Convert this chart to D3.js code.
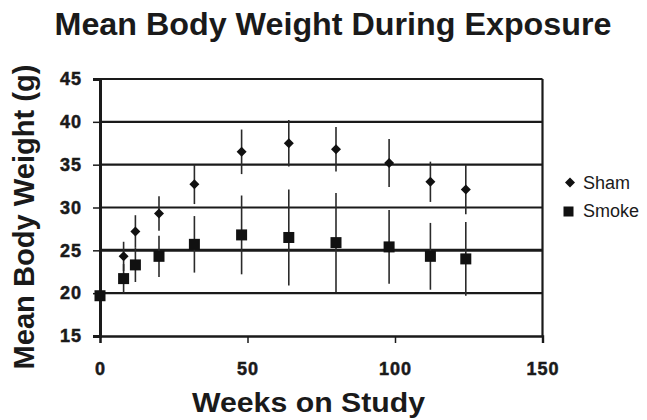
<!DOCTYPE html>
<html>
<head>
<meta charset="utf-8">
<script src="https://cdn.jsdelivr.net/npm/d3@7"></script>
<style>
  html, body { margin: 0; padding: 0; background: #fff; }
  svg { display: block; font-family: "Liberation Sans", Arial, sans-serif; }
</style>
</head>
<body>
<svg id="chart" width="647" height="420"></svg>
<script>
// ---- Data ----
const weeks = [0, 8, 12, 20, 32, 48, 64, 80, 98, 112, 124];
const shamMean = [19.8, 24.3, 27.2, 29.3, 32.7, 36.5, 37.5, 36.8, 35.2, 33.0, 32.1];
const shamErr  = [0.4, 1.7, 1.9, 2.0, 2.3, 2.6, 2.7, 2.6, 2.8, 2.35, 2.9];
const smokeMean = [19.7, 21.7, 23.3, 24.3, 25.7, 26.8, 26.5, 25.9, 25.4, 24.3, 24.0];
const smokeErr  = [0.4, 1.7, 2.0, 2.4, 3.3, 4.6, 5.6, 5.8, 4.3, 3.9, 4.3];
const xTicks = [0, 50, 100, 150];
const yTicks = [15, 20, 25, 30, 35, 40, 45];
const seriesNames = ["Sham", "Smoke"];
const titleText = "Mean Body Weight During Exposure";
const xLabel = "Weeks on Study";
const yLabel = "Mean Body Weight (g)";

// ---- Layout ----
const svg = d3.select("#chart");
const plot = { left: 100, right: 542.5, top: 79, bottom: 336 };
const x = d3.scaleLinear().domain([0, 150]).range([plot.left, plot.right]);
const y = d3.scaleLinear().domain([15, 45]).range([plot.bottom, plot.top]);
const ink = "#1a1a1a";

// Title
svg.append("text")
  .attr("x", 333).attr("y", 35)
  .attr("text-anchor", "middle")
  .attr("font-size", 32).attr("font-weight", "bold")
  .attr("fill", ink)
  .attr("textLength", 557).attr("lengthAdjust", "spacingAndGlyphs")
  .text(titleText);

// Horizontal gridlines (20..45)
svg.append("g").selectAll("line")
  .data(yTicks.filter(d => d > 15))
  .join("line")
  .attr("x1", plot.left).attr("x2", plot.right)
  .attr("y1", d => y(d)).attr("y2", d => y(d))
  .attr("stroke", ink)
  .attr("stroke-width", d => d === 25 ? 3 : 2.2);

// Right border
svg.append("line")
  .attr("x1", plot.right).attr("x2", plot.right)
  .attr("y1", plot.top).attr("y2", plot.bottom)
  .attr("stroke", ink).attr("stroke-width", 2.2);

// Y axis
const yAxis = svg.append("g")
  .attr("transform", `translate(${plot.left},0)`)
  .call(d3.axisLeft(y).tickValues(yTicks).tickSize(7).tickPadding(11).tickFormat(d3.format("d")));
yAxis.select(".domain").attr("stroke", ink).attr("stroke-width", 3);
yAxis.selectAll(".tick line").attr("stroke", ink).attr("stroke-width", 1.5);
yAxis.selectAll(".tick text")
  .attr("font-size", 18).attr("font-weight", "bold").attr("fill", ink)
  .attr("stroke", ink).attr("stroke-width", 0.5)
  .attr("letter-spacing", 1)
  .attr("font-family", "Liberation Sans, Arial, sans-serif");

// X axis
const xAxis = svg.append("g")
  .attr("transform", `translate(0,${plot.bottom})`)
  .call(d3.axisBottom(x).tickValues(xTicks).tickSize(7).tickPadding(19).tickFormat(d3.format("d")));
xAxis.select(".domain").attr("stroke", ink).attr("stroke-width", 2.4);
xAxis.selectAll(".tick line").attr("stroke", ink).attr("stroke-width", 1.5);
xAxis.selectAll(".tick text")
  .attr("font-size", 18).attr("font-weight", "bold").attr("fill", ink)
  .attr("stroke", ink).attr("stroke-width", 0.5)
  .attr("letter-spacing", 1)
  .attr("font-family", "Liberation Sans, Arial, sans-serif");

// Axis labels
svg.append("text")
  .attr("x", 308.5).attr("y", 411.5)
  .attr("text-anchor", "middle")
  .attr("font-size", 27).attr("font-weight", "bold").attr("fill", ink)
  .attr("textLength", 233).attr("lengthAdjust", "spacingAndGlyphs")
  .text(xLabel);

svg.append("text")
  .attr("transform", "translate(34,217) rotate(-90)")
  .attr("text-anchor", "middle")
  .attr("font-size", 29).attr("font-weight", "bold").attr("fill", ink)
  .attr("textLength", 305).attr("lengthAdjust", "spacingAndGlyphs")
  .text(yLabel);

// Data rows
const sham = weeks.map((w, i) => ({ w, m: shamMean[i], e: shamErr[i] }));
const smoke = weeks.map((w, i) => ({ w, m: smokeMean[i], e: smokeErr[i] }));

function errorBars(data) {
  svg.append("g").selectAll("line")
    .data(data)
    .join("line")
    .attr("x1", d => x(d.w)).attr("x2", d => x(d.w))
    .attr("y1", d => y(d.m + d.e)).attr("y2", d => y(d.m - d.e))
    .attr("stroke", "#2a2a2a").attr("stroke-width", 1.6);
}
errorBars(smoke);
errorBars(sham);

const diamond = d3.symbol().type(d3.symbolSquare).size(50);
// Sham diamonds
svg.append("g").selectAll("path")
  .data(sham)
  .join("path")
  .attr("d", diamond)
  .attr("transform", d => `translate(${x(d.w)},${y(d.m)}) rotate(45)`)
  .attr("fill", "#111");

// Smoke squares
const sq = 11;
svg.append("g").selectAll("rect")
  .data(smoke)
  .join("rect")
  .attr("x", d => x(d.w) - sq / 2).attr("y", d => y(d.m) - sq / 2)
  .attr("width", sq).attr("height", sq)
  .attr("fill", "#111");

// Legend
const legend = svg.append("g");
legend.append("path")
  .attr("d", d3.symbol().type(d3.symbolSquare).size(50))
  .attr("transform", "translate(570,182.5) rotate(45)")
  .attr("fill", "#111");
legend.append("rect")
  .attr("x", 563.5).attr("y", 206.5).attr("width", 10).attr("height", 10)
  .attr("fill", "#111");
legend.selectAll("text")
  .data(seriesNames)
  .join("text")
  .attr("x", 583)
  .attr("y", (d, i) => i === 0 ? 188.5 : 216.5)
  .attr("font-size", 18).attr("fill", ink)
  .text(d => d);
</script>
</body>
</html>
